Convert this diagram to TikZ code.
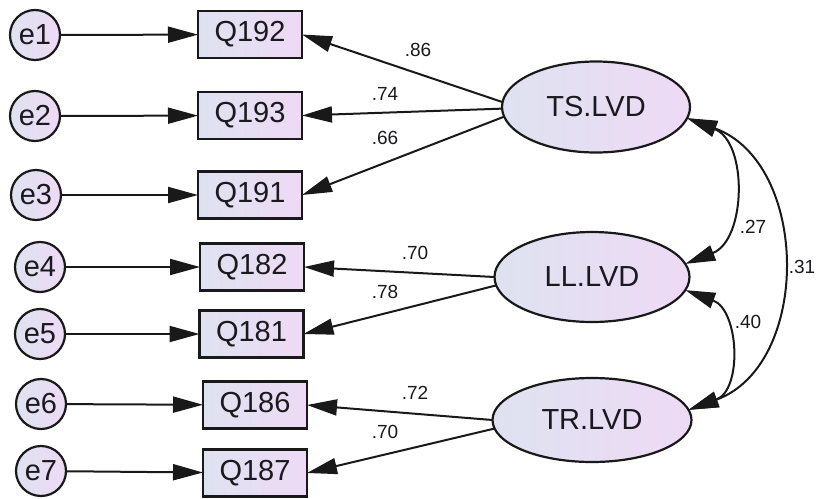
\documentclass[tikz,border=0pt]{standalone}
\usepackage{fontspec}
\setmainfont{Liberation Sans}
\usetikzlibrary{arrows.meta,shapes.geometric}
\definecolor{fillL}{RGB}{222,226,240}
\definecolor{fillR}{RGB}{238,218,245}
\definecolor{txt}{RGB}{25,25,30}
\tikzset{
  basenode/.style={line width=2.2pt, draw=black!90, left color=fillL, right color=fillR,
    inner sep=0pt, outer sep=0pt, text=txt, font=\fontsize{29}{30}\selectfont},
  errnode/.style={basenode, circle, minimum size=50pt},
  obsnode/.style={basenode, rectangle, minimum width=104pt, minimum height=47pt},
  latnode/.style={basenode, ellipse},
  coef/.style={font=\fontsize{19}{20}\selectfont, text=txt, inner sep=0pt},
  tipA/.tip={Triangle[length=30pt,width=16pt]},
  conn/.style={line width=2pt, draw=black!90, -tipA},
  cov/.style={line width=2pt, draw=black!90, tipA-tipA},
}
\begin{document}
\begin{tikzpicture}[x=1pt,y=-1pt]
\useasboundingbox (0,0) rectangle (816,498);
% error terms
\node[errnode] (e1) at (35,35) {e1};
\node[errnode] (e2) at (35,116) {e2};
\node[errnode] (e3) at (36,195) {e3};
\node[errnode] (e4) at (40,267) {e4};
\node[errnode] (e5) at (40,334) {e5};
\node[errnode] (e6) at (41,404) {e6};
\node[errnode] (e7) at (41,471) {e7};
% observed
\node[obsnode] (q192) at (250,34.5) {Q192};
\node[obsnode] (q193) at (250,115.5) {Q193};
\node[obsnode] (q191) at (250,195) {Q191};
\node[obsnode] (q182) at (252,267) {Q182};
\node[obsnode] (q181) at (251.5,334) {Q181};
\node[obsnode] (q186) at (255,405) {Q186};
\node[obsnode] (q187) at (255,473) {Q187};
% latent
\node[latnode, minimum width=188pt, minimum height=91pt] (ts) at (596,107) {TS.LVD};
\node[latnode, minimum width=195pt, minimum height=90pt] (ll) at (592,277) {LL.LVD};
\node[latnode, minimum width=199pt, minimum height=84pt] (tr) at (592,420) {TR.LVD};
% error arrows
\draw[conn] (e1) -- (q192);
\draw[conn] (e2) -- (q193);
\draw[conn] (e3) -- (q191);
\draw[conn] (e4) -- (q182);
\draw[conn] (e5) -- (q181);
\draw[conn] (e6) -- (q186);
\draw[conn] (e7) -- (q187);
% loadings
\draw[conn] (ts.177) -- (q192.east);
\draw[conn] (ts.181) -- (q193.east);
\draw[conn] (ts.186) -- (q191.east);
\draw[conn] (ll.180) -- (q182.east);
\draw[conn] (ll.185) -- (q181.east);
\draw[conn] (tr.180) -- (q186.east);
\draw[conn] (tr.185) -- (q187.east);
% covariances
\draw[cov] (ts.-7) .. controls +(61,24) and +(61,-24) .. (ll.8);
\draw[cov] (ts.-7) .. controls +(123,45) and +(123,-45) .. (tr.6);
\draw[cov] (ll.-8) .. controls +(54,20) and +(54,-20) .. (tr.6);
% coefficients
\node[coef] (c1) at (418,50) {.86};
\node[coef] (c2) at (385,94) {.74};
\node[coef] (c3) at (385,138) {.66};
\node[coef] (c4) at (415,253) {.70};
\node[coef] (c5) at (385,292) {.78};
\node[coef] (c6) at (415,393) {.72};
\node[coef] (c7) at (385,432) {.70};
\node[coef] (c8) at (753,227) {.27};
\node[coef] (c9) at (802,267) {.31};
\node[coef] (c10) at (748,322) {.40};
\end{tikzpicture}
\end{document}
